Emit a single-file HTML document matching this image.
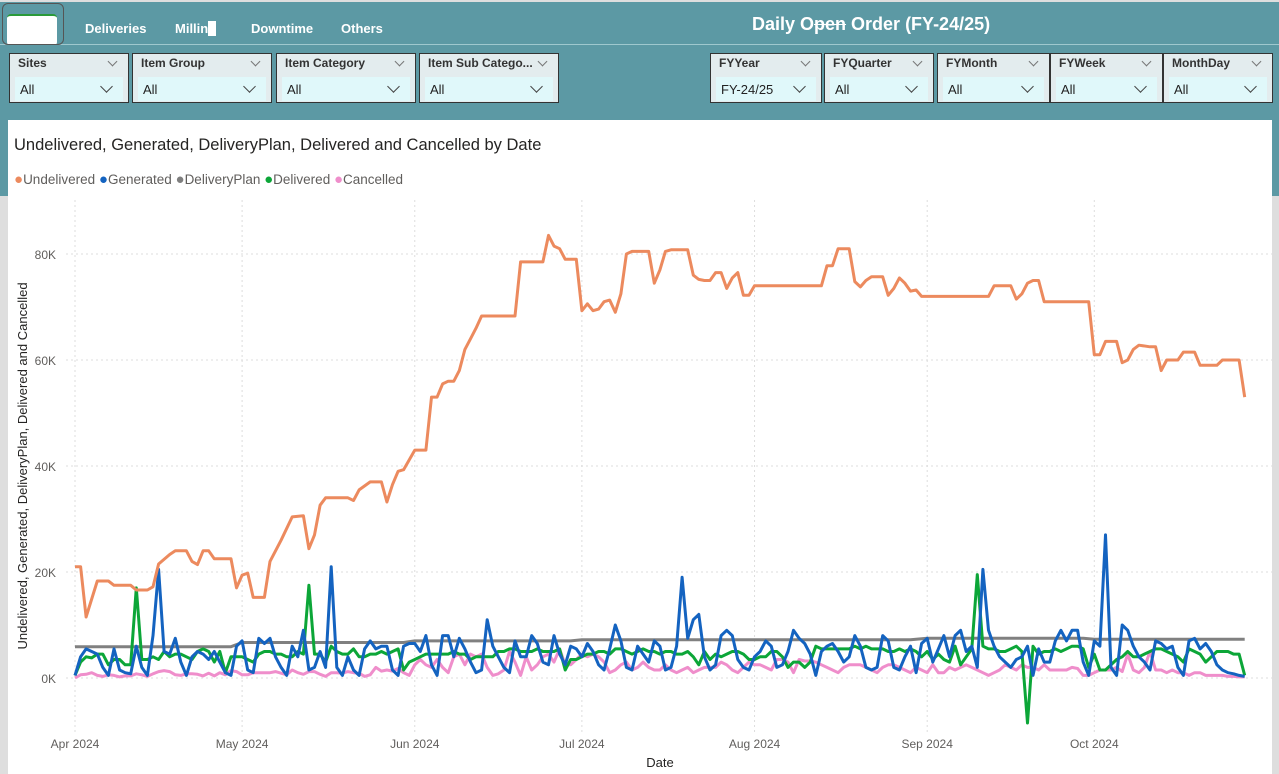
<!DOCTYPE html>
<html><head><meta charset="utf-8">
<style>
body{margin:0;width:1279px;height:774px;overflow:hidden;background:#dedede;font-family:"Liberation Sans",sans-serif;position:relative}
.abs{position:absolute}
.nav{position:absolute;top:21px;color:#fff;font-weight:bold;font-size:13px}
.sl{position:absolute;top:53px;height:50px;border:1px solid #333;background:#e3ecee;box-sizing:border-box}
.sl .h{position:absolute;left:8px;top:2px;font-size:12px;font-weight:bold;color:#333}
.sl .c{position:absolute;right:12px;top:4px;width:6px;height:6px;border-right:1px solid #777;border-bottom:1px solid #777;transform:rotate(45deg)}
.sl .d{position:absolute;left:5px;right:5px;top:23px;height:24px;background:#e0f8fa;font-size:13px;color:#222;line-height:26px;padding-left:5px}
.sl .d span{position:absolute;right:12px;top:5px;width:8px;height:8px;border-right:1px solid #444;border-bottom:1px solid #444;transform:rotate(45deg)}
</style></head><body>
<div class="abs" style="left:0;top:2px;width:1279px;height:194px;background:#5c99a4"></div>
<div class="abs" style="left:0;top:44px;width:1279px;height:1px;background:#9fc8ce"></div>
<div class="abs" style="left:2px;top:3px;width:62px;height:42px;border:1px solid #555;border-radius:6px;box-sizing:border-box;overflow:hidden"><div style="position:absolute;left:4px;top:10px;width:50px;height:30px;background:#fff;border-radius:4px;border-top:2px solid #2a9a3a"></div></div>
<div class="nav" style="left:85px">Deliveries</div>
<div class="nav" style="left:175px">Millin<span style="background:#fff">g</span></div>
<div class="nav" style="left:251px">Downtime</div>
<div class="nav" style="left:341px">Others</div>
<div class="abs" style="left:752px;top:14px;color:#fff;font-weight:bold;font-size:18px">Daily O<span style="color:#fff;text-decoration:line-through">pen</span> Order (FY-24/25)</div>

<div class="sl" style="left:9px;width:120px"><div class="h">Sites</div><div class="c"></div><div class="d">All<span></span></div></div>
<div class="sl" style="left:132px;width:140px"><div class="h">Item Group</div><div class="c"></div><div class="d">All<span></span></div></div>
<div class="sl" style="left:276px;width:140px"><div class="h">Item Category</div><div class="c"></div><div class="d">All<span></span></div></div>
<div class="sl" style="left:419px;width:140px"><div class="h">Item Sub Catego...</div><div class="c"></div><div class="d">All<span></span></div></div>
<div class="sl" style="left:710px;width:112px"><div class="h">FYYear</div><div class="c"></div><div class="d">FY-24/25<span></span></div></div>
<div class="sl" style="left:824px;width:110px"><div class="h">FYQuarter</div><div class="c"></div><div class="d">All<span></span></div></div>
<div class="sl" style="left:937px;width:113px"><div class="h">FYMonth</div><div class="c"></div><div class="d">All<span></span></div></div>
<div class="sl" style="left:1050px;width:113px"><div class="h">FYWeek</div><div class="c"></div><div class="d">All<span></span></div></div>
<div class="sl" style="left:1163px;width:110px"><div class="h">MonthDay</div><div class="c"></div><div class="d">All<span></span></div></div>

<div class="abs" style="left:8px;top:120px;width:1264px;height:654px;background:#fff"></div>
<div class="abs" style="left:14px;top:136px;font-size:16.5px;color:#252423">Undelivered, Generated, DeliveryPlan, Delivered and Cancelled by Date</div>
<div class="abs" style="left:14px;top:171px;font-size:13.5px;color:#605e5c;white-space:nowrap">
<span><span style="color:#ec8a5e;font-size:15px">●</span>Undelivered</span>
<span><span style="color:#1463c0;font-size:15px">●</span>Generated</span>
<span><span style="color:#7f7f7f;font-size:15px">●</span>DeliveryPlan</span>
<span><span style="color:#0ca638;font-size:15px">●</span>Delivered</span>
<span><span style="color:#ef8ecb;font-size:15px">●</span>Cancelled</span>
</div>
<svg class="abs" id="chart" style="left:0;top:0" width="1279" height="774"></svg>
<script>
const monthLabels=["Apr 2024","May 2024","Jun 2024","Jul 2024","Aug 2024","Sep 2024","Oct 2024"];
const monthDays=[0,30,61,91,122,153,183];
const yTicks=[0,20,40,60,80];
const undDays=[0,1,2,4,6,7,10,11,13,14,15,17,18,20,21,22,23,24,25,28,29,30,31,32,34,35,37,39,41,42,43,44,45,49,50,51,53,55,56,57,58,59,61,63,64,65,66,67,68,69,70,71,72,73,79,80,84,85,86,87,88,90,91,92,93,94,95,96,97,98,99,100,102,103,104,105,106,107,110,111,112,113,114,115,116,117,118,119,120,121,122,134,135,136,137,139,140,141,142,143,145,146,147,148,149,150,151,152,164,165,168,169,170,171,172,173,174,182,183,184,185,187,188,189,190,191,193,194,195,196,198,199,201,202,205,206,209,210];
const undVals=[21,21,11.5,18.3,18.3,17.5,17.5,16.6,16.6,17.2,21.5,23.3,24,24,22,21.4,24,24,22.5,22.5,17,19.4,19.8,15.2,15.2,22,26,30.4,30.6,24.4,27,32.6,34,34,33.5,35.5,37,37,33.2,36.5,39,39.3,43,43,53,53,55.5,56,56,58,62,64,66,68.3,68.3,78.5,78.5,83.5,81.5,81,79,79,69.3,70.6,69.3,69.6,71,71.3,69,72.5,80,80.5,80.5,80.5,74.5,77,80.5,80.8,80.8,76,75.2,75,75,76.5,76.5,73.5,75.5,76.5,72.2,72.2,74,74,77.8,77.8,81,81,74.8,73.8,75,75.7,75.7,72.2,73.5,75.5,74.5,73,73.2,72,72,74,74,71.5,72.5,74.5,75,75,71,71,61,61,63.5,63.5,59.5,60,62,62.8,62.5,62.5,58,60,60,61.5,61.5,59,59,60,60,53];
const generated=[0.5,4,5.5,5,4.5,2,0.5,5.5,1.5,1, 0.8,6,2,0.5,8,20.5,5,4.5,7.5,3, 0.5,4,5,4.5,3.5,5,3,1,0.5,6, 7,1.5,1,7.5,6.5,7.5,4,2,0.5,6, 4,9,1.5,2,5,2,21,2,0.5,4, 1.5,0.5,5.5,7,5.5,6,6,1.5,0.5,6, 6.5,6.5,5,8,2.5,0.5,8,8,4,7.5, 5.5,3,1,1.5,11,6,4,2,1,7, 4,4,8,6.5,3,2.5,8,4.5,2.5,6, 5.5,4,6.5,5,2.5,1.5,5.5,10,7,2, 1.5,6,4.5,3,7,6,1.5,2,6,19, 7.5,11,12,4,1.5,2.5,8,9,8,3.5, 2,1.5,4,5,7,6,2,2.5,5,9, 7.5,6.5,4.5,0.5,5,6,6.5,5,3,4, 8,6,2,1.5,2,8,7,2,1.5,4, 6,1,6.5,7.5,3,5.5,8,4,8,9, 5,6,2,20.5,9,6,4,3,2,3.5, 4,6,0.5,5.5,3,3,7,9,7,9, 9,3,0.5,7,6,27,2,0.5,10,9, 6,4,3,1.5,7,6.5,5.5,6,2,0.5, 7,7.5,5.5,6.5,5,2.5,1.5,1,0.8,0.5,0.3];
const delivered=[0.5,3,4,3.8,4.5,4.5,2.5,3.5,3.5,2.5, 2.5,17,3.5,3.5,4,3.5,5,4,4.5,4.5, 4,3.5,5,5.5,5,3,5,1,4,4, 4,3.5,3,4.5,5,5,4.5,4.5,4,4, 5,4.5,17.5,4.5,4.5,3,6,5,4.5,4.5, 5.5,4,4,4.5,4.5,5,4.5,5,5.5,1.5, 3,3.5,4,4.5,4.5,4.5,4.5,4.5,5,4.5, 4.5,3.5,4,4,4,4,5,5,5.5,5.5, 5,5,5,5.5,5,5,5,5.5,1.5,3.5, 3.5,4,4.5,4.5,5,5,4.5,5.5,5.5,5, 4.5,5,5.5,5,5,4.5,5,5,4.5,4.5, 5,4,2.5,5,3.5,4.5,4,4.5,5,5, 4.5,3.5,3.5,4,4,5,5,4,2,3, 3,2,3,6,5.5,5.5,5.5,5.5,5.5,5.5, 6,5.5,6,5.5,5.5,5.5,5,5,5.5,5, 5.5,5,4,5,3.5,4.5,3.5,3,6,2.5, 4,5.5,19.5,6,5.5,5.5,5,5,5.5,6, 5,-8.5,6,4.5,5,5,5.5,5,5.5,6, 6,5.5,2,4.5,1.5,1.5,2.5,3.5,4,5, 4,4,4.5,5,5.5,5.5,5,4.5,4,3, 5.5,5,4.5,3,4,5,5,5,4.5,4.5,0.5];
const cancelled=[0,0.6,0.7,1,0.5,0.3,0.6,0.5,0.2,0.4, 0.4,0.8,0.6,0.3,0.8,1.2,1.4,1.2,0.6,0.5, 0.8,0.8,0.7,0.4,0.9,0.4,1,0.6,1.4,1.2, 0.6,0.6,1,1,1,1,1.2,0.9,0.6,1.5, 1,0.7,1.2,1.2,0.7,0.3,1,1,0.9,1.2, 1,0.9,0.3,0.6,2,1.3,1.5,1.3,1.8,1, 0.5,2.5,3.5,2.5,2,3.5,2,1,4,4.5, 2.5,4.5,4,4.5,2,0.5,0.8,1.5,5,3, 0.5,4,1.5,2.5,4,4.5,3,5.5,2.5,2.5, 3.5,4.5,4,4.5,4,3,1,1.5,2.5,3, 1.5,2,3,2,1.5,1.5,2.5,1.5,1,1.5, 2,1,1.5,2,2,2,3,2.5,1.5,1, 2,3,2.5,2.5,2,1.5,3.5,3.5,3,1, 3.5,3.2,3.2,3,2.5,2,1.5,1,2,2.5, 2.5,2.5,2,1.5,1,2,2.5,2.5,2,1.5, 1,2,1.5,1,2.5,1,1,2,1.5,2, 2.5,2,1.5,1,0.5,1,1.5,2.5,2,1.5, 2.5,2,2,1.5,2.5,1.5,1.5,1.5,1.5,2, 1.8,0.5,0.5,1,1.5,1.5,1.5,2,1.2,4.5, 1.5,1,2,5,1.5,1.5,1,1.5,1,1, 0.5,1,1,0.5,0.5,0.5,0.5,0.3,0.3,0.2,0.2];
const planDays=[0,28,30,59,61,89,91,150,153,181,183,210];
const planVals=[5.9,5.9,6.7,6.7,7.0,7.0,7.2,7.2,7.5,7.5,7.3,7.3];

const svg=document.getElementById('chart');
const NS='http://www.w3.org/2000/svg';
const xS=d=>75+d*5.57;
const yS=v=>678-v*5.3;
function mk(tag,attrs){const e=document.createElementNS(NS,tag);for(const k in attrs)e.setAttribute(k,attrs[k]);svg.appendChild(e);return e;}
yTicks.forEach(t=>{
  const g=mk('line',{x1:66,x2:1272,y1:yS(t),y2:yS(t),stroke:'#ddd','stroke-dasharray':'2,3'});
  
  
  const l=mk('text',{x:56,y:yS(t)+5,'text-anchor':'end','font-size':12,fill:'#605e5c','font-family':'Liberation Sans, sans-serif'});
  l.textContent=t+'K';
  
  
});
monthDays.forEach((d,i)=>{
  const g=mk('line',{x1:xS(d),x2:xS(d),y1:200,y2:733,stroke:'#ddd','stroke-dasharray':'2,3'});
  
  
  const l=mk('text',{x:xS(d),y:748,'text-anchor':'middle','font-size':12,fill:'#605e5c','font-family':'Liberation Sans, sans-serif'});
  l.textContent=monthLabels[i];
  
  
});
const xt=mk('text',{x:660,y:767,'text-anchor':'middle','font-size':13,fill:'#252423','font-family':'Liberation Sans, sans-serif'});
xt.textContent='Date';


const yt=mk('text',{x:0,y:0,transform:'translate(27,466) rotate(-90)','text-anchor':'middle','font-size':13,fill:'#252423','font-family':'Liberation Sans, sans-serif'});
yt.textContent='Undelivered, Generated, DeliveryPlan, Delivered and Cancelled';


function line(days,vals,color,name){
  const pts=vals.map((v,i)=>xS(days?days[i]:i).toFixed(1)+','+yS(v).toFixed(1)).join(' ');
  const p=mk('polyline',{points:pts,fill:'none',stroke:color,'stroke-width':3,'stroke-linejoin':'round'});
  
  
}
line(planDays,planVals,'#808080','deliveryplan-line');
line(null,cancelled,'#ef8ecb','cancelled-line');
line(null,delivered,'#0ca638','delivered-line');
line(null,generated,'#1463c0','generated-line');
line(undDays,undVals,'#ec8a5e','undelivered-line');
</script>
</body></html>
